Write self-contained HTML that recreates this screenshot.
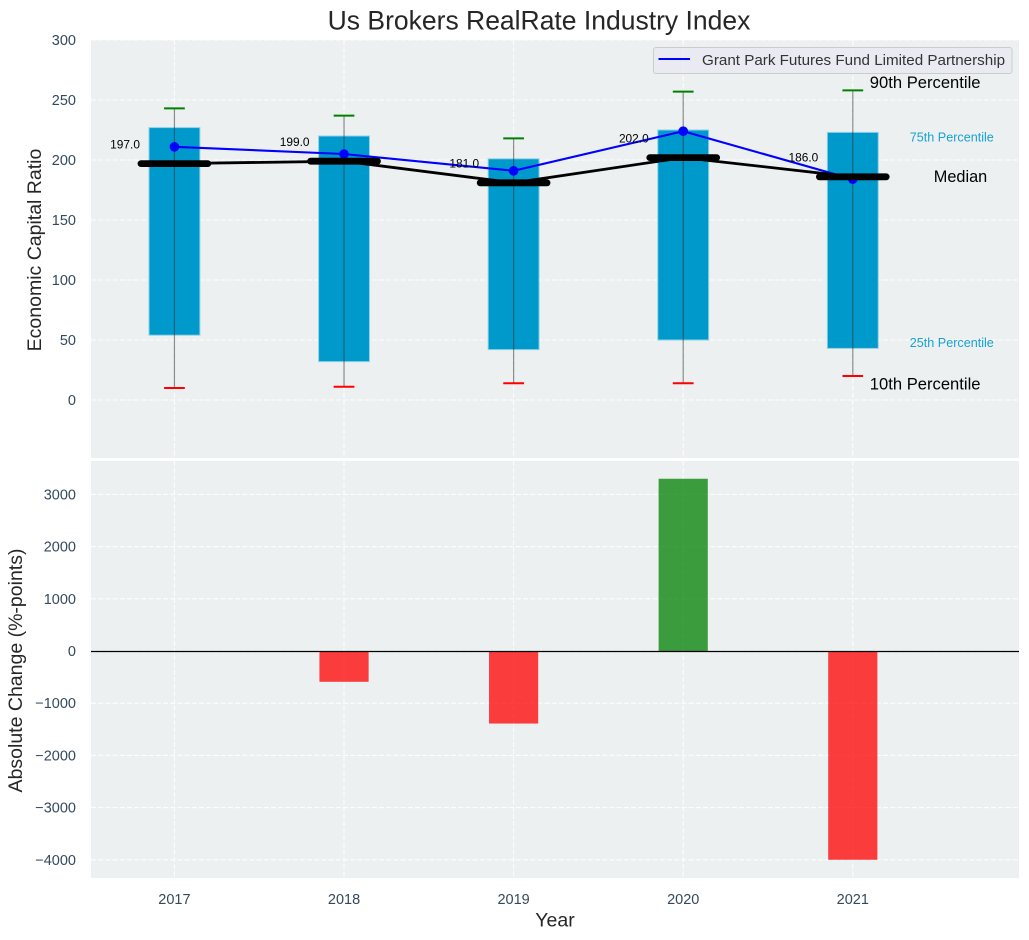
<!DOCTYPE html>
<html>
<head>
<meta charset="utf-8">
<style>
html,body{margin:0;padding:0;background:#fff;width:1029px;height:940px;overflow:hidden}
svg{display:block;font-family:"Liberation Sans",Arial,sans-serif}
</style>
</head>
<body>
<svg id="chart" xmlns="http://www.w3.org/2000/svg" width="1029" height="940" viewBox="0 0 1029 940">
<rect width="1029" height="940" fill="#fff"/>
<text x="539" y="29.5" text-anchor="middle" font-size="26.5" fill="#262626">Us Brokers RealRate Industry Index</text>
<text transform="translate(41 250) rotate(-90)" text-anchor="middle" font-size="19.5" fill="#262626">Economic Capital Ratio</text>
<text transform="translate(22 670.5) rotate(-90)" text-anchor="middle" font-size="19.5" fill="#262626">Absolute Change (%-points)</text>
<text x="555" y="926.5" text-anchor="middle" font-size="19.5" fill="#262626">Year</text>
</svg>
<script>
const years = [2017, 2018, 2019, 2020, 2021];
const p90 = [243, 237, 218, 257, 258];
const p75 = [227, 220, 201, 225, 223];
const median = [197, 199, 181, 202, 186];
const p25 = [54, 32, 42, 50, 43];
const p10 = [10, 11, 14, 14, 20];
const fund = [211, 205, 191, 224, 184];
const change = [0, -590, -1390, 3300, -4000];
const upperTicks = [0, 50, 100, 150, 200, 250, 300];
const lowerTicks = [-4000, -3000, -2000, -1000, 0, 1000, 2000, 3000];
const legendLabel = "Grant Park Futures Fund Limited Partnership";

const svg = document.getElementById('chart');
const NS = 'http://www.w3.org/2000/svg';
const L = 91, R = 1019, T1 = 40, B1 = 458, T2 = 461, B2 = 878;
const xMin = 2016.508, xMax = 2021.98;
const y1Min = -48.33, y1Max = 300;
const y2Min = -4349, y2Max = 3640;
const x = v => L + (v - xMin) / (xMax - xMin) * (R - L);
const y1 = v => B1 - (v - y1Min) / (y1Max - y1Min) * (B1 - T1);
const y2 = v => B2 - (v - y2Min) / (y2Max - y2Min) * (B2 - T2);
const unit0 = x(2018) - x(2017);

function mk(tag, attrs, content) {
  const n = document.createElementNS(NS, tag);
  for (const k in attrs) n.setAttribute(k, attrs[k]);
  if (content !== undefined) n.textContent = content;
  svg.appendChild(n);
  return n;
}
let el;

// panel backgrounds
el = mk('rect', {x: L, y: T1, width: R - L, height: B1 - T1, fill: '#ecf0f1'});


el = mk('rect', {x: L, y: T2, width: R - L, height: B2 - T2, fill: '#ecf0f1'});



const gridStyle = {stroke: '#fff', 'stroke-width': 1.1, 'stroke-dasharray': '5 2.2', opacity: 0.9};

// upper grid + ticks
upperTicks.forEach(t => {
  el = mk('line', Object.assign({x1: L, x2: R, y1: y1(t), y2: y1(t)}, gridStyle));
  
  
  el = mk('text', {x: 76, y: y1(t) + 5, 'text-anchor': 'end', 'font-size': 14.5, fill: '#34495e'}, String(t));
  
  
});
// lower grid + ticks
lowerTicks.forEach(t => {
  el = mk('line', Object.assign({x1: L, x2: R, y1: y2(t), y2: y2(t)}, gridStyle));
  
  
  el = mk('text', {x: 76, y: y2(t) + 5, 'text-anchor': 'end', 'font-size': 14.5, fill: '#34495e'}, String(t).replace('-', '\u2212'));
  
  
});
// vertical grid + x ticks
years.forEach(yr => {
  el = mk('line', Object.assign({x1: x(yr), x2: x(yr), y1: T1, y2: B1}, gridStyle));
  
  
  el = mk('line', Object.assign({x1: x(yr), x2: x(yr), y1: T2, y2: B2}, gridStyle));
  
  
  el = mk('text', {x: x(yr), y: 904, 'text-anchor': 'middle', 'font-size': 14.5, fill: '#34495e'}, String(yr));
  
  
});

const boxW = 0.3 * unit0, capW = 0.12 * unit0, medW = 0.4 * unit0, changeW = 0.29 * unit0;

// interquartile bars
years.forEach((yr, i) => {
  el = mk('rect', {x: x(yr) - boxW / 2, y: y1(p75[i]), width: boxW, height: y1(p25[i]) - y1(p75[i]), fill: '#0099cc', stroke: '#8fd0e6', 'stroke-width': 1});
  
  
});
// whiskers + caps
years.forEach((yr, i) => {
  el = mk('line', {x1: x(yr), x2: x(yr), y1: y1(p90[i]), y2: y1(p10[i]), stroke: '#333', 'stroke-opacity': 0.55, 'stroke-width': 1.2});
  
  
  el = mk('line', {x1: x(yr) - capW / 2 - 0.2, x2: x(yr) + capW / 2 + 0.2, y1: y1(p90[i]), y2: y1(p90[i]), stroke: '#008000', 'stroke-width': 2});
  
  
  el = mk('line', {x1: x(yr) - capW / 2 - 0.2, x2: x(yr) + capW / 2 + 0.2, y1: y1(p10[i]), y2: y1(p10[i]), stroke: '#ff0000', 'stroke-width': 2});
  
  
});
// fund line + markers
el = mk('polyline', {points: years.map((yr, i) => x(yr) + ',' + y1(fund[i])).join(' '), fill: 'none', stroke: '#0000ff', 'stroke-width': 2.1});


years.forEach((yr, i) => {
  el = mk('circle', {cx: x(yr), cy: y1(fund[i]), r: 4.8, fill: '#0000ff'});
  
  
});
// median connecting line + thick median bars
el = mk('polyline', {points: years.map((yr, i) => x(yr) + ',' + y1(median[i])).join(' '), fill: 'none', stroke: '#000', 'stroke-width': 2.8});


years.forEach((yr, i) => {
  el = mk('line', {x1: x(yr) - medW / 2 + 0.5, x2: x(yr) + medW / 2 - 0.5, y1: y1(median[i]), y2: y1(median[i]), stroke: '#000', 'stroke-width': 6.8, 'stroke-linecap': 'round'});
  
  
  el = mk('text', {x: x(yr) - 34.5, y: y1(median[i] + 16) + 4, 'text-anchor': 'end', 'font-size': 11.9, fill: '#000'}, median[i].toFixed(1));
  
  
});

// change bars
years.forEach((yr, i) => {
  if (change[i] === 0) return;
  const top = Math.min(y2(0), y2(change[i]));
  const h = Math.abs(y2(change[i]) - y2(0));
  el = mk('rect', {x: x(yr) - changeW / 2, y: top, width: changeW, height: h, fill: change[i] > 0 ? '#008000' : '#ff0000', 'fill-opacity': 0.75});
  
  
});
// zero line
el = mk('line', {x1: L, x2: R, y1: y2(0) + 0.5, y2: y2(0) + 0.5, stroke: '#000', 'stroke-width': 1.2});



// percentile annotations for the last year
const last = years.length - 1;
const lastX = x(years[last]);
el = mk('text', {x: lastX + 17, y: y1(p90[last]) - 2.4, 'font-size': 16.6, fill: '#000'}, '90th Percentile');


el = mk('text', {x: lastX + 57, y: y1(p75[last]) + 9, 'font-size': 12.6, fill: '#0099cc', 'fill-opacity': 0.9}, '75th Percentile');


el = mk('text', {x: lastX + 81, y: y1(median[last]) + 5, 'font-size': 16.3, fill: '#000'}, 'Median');


el = mk('text', {x: lastX + 57, y: y1(p25[last]) - 1.5, 'font-size': 12.6, fill: '#0099cc', 'fill-opacity': 0.9}, '25th Percentile');


el = mk('text', {x: lastX + 17, y: y1(p10[last]) + 13.5, 'font-size': 16.6, fill: '#000'}, '10th Percentile');



// legend
el = mk('rect', {x: 653.5, y: 47.5, width: 358.5, height: 26, rx: 2.5, fill: '#eaeaf2', 'fill-opacity': 0.8, stroke: '#cccccc', 'stroke-width': 1});


el = mk('line', {x1: 658.5, x2: 690, y1: 59, y2: 59, stroke: '#0000ff', 'stroke-width': 2});


el = mk('text', {x: 702, y: 65, 'font-size': 15.2, fill: '#333'}, legendLabel);


</script>
</body>
</html>
